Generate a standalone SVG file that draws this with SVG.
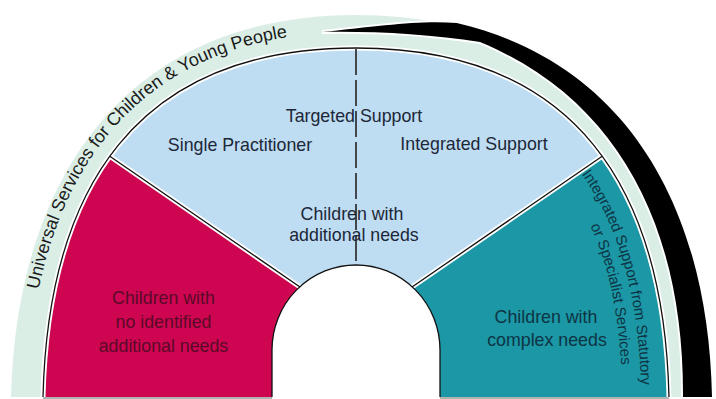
<svg xmlns="http://www.w3.org/2000/svg" width="716" height="399" viewBox="0 0 716 399">
<style>
text{font-family:"Liberation Sans",Arial,Helvetica,sans-serif;}
.lbl{font-size:17.8px;fill:#1c2738;text-anchor:middle}
.rt{fill:#5a0a28}
.tt{fill:#0e3444}
.edge{fill:none;stroke:#111;stroke-width:1.3;stroke-linejoin:round}
.halo{fill:none;stroke:#fff;stroke-width:5;stroke-linejoin:round}
.side{font-size:15px;fill:#0e3444;text-anchor:middle}
</style>
<defs>
<path id="bandPath" d="M27,397 C32,184 129,32 356,32"/>
<path id="tp1" d="M580,172 C621.5,228 639.4,302.5 641.5,397"/>
<path id="tp2" d="M564.6,183 C604.5,235.4 620.6,304.4 622.5,397"/>
</defs>
<rect width="716" height="399" fill="#fff"/>
<g id="band">
<path d="M11,397 C16,180 125,15 356,15 C587,15 696,180 701,397 Z" fill="#DAEEE6"/>
<text font-size="18" fill="#1a1a1a"><textPath href="#bandPath" startOffset="108">Universal Services for Children &amp; Young People</textPath></text>
</g>
<g id="shadow">
<path d="M322,32 C380,26 420,20 456.7,23 C630.1,63.5 708.6,212.55 712,397 L683,397 C684,230 620,100 480,42 C430,34 370,31 322,32 Z" fill="#000" stroke="#fff" stroke-width="4" paint-order="stroke"/>
</g>
<g id="dome">
<path d="M43,397 C48,190 135,48 356,48 C577,48 664,190 669,397 Z" fill="#fff"/>
</g>
<g id="region-red">
<path d="M43,397 C45.35,299.7 65.8,216.8 109.8,156.2 L300,287 A84 85 0 0 0 272,350 L272,397 Z" fill="#CE0550"/>
</g>
<g id="region-blue">
<path d="M109.8,156.2 C159.4,87.9 238.9,48 356,48 C473.1,48 552.6,87.9 602.2,156.2 L412,287 A84 85 0 0 0 300,287 Z" fill="#BFDDF2"/>
</g>
<g id="region-teal">
<path d="M602.2,156.2 C646.2,216.8 666.65,299.7 669,397 L440,397 L440,350 A84 85 0 0 0 412,287 Z" fill="#1B97A5"/>
</g>
<g id="arch">
<path d="M272,397 L272,350 A84 85 0 0 1 440,350 L440,397 Z" fill="#fff"/>
</g>
<g id="connectors">
<path class="halo" d="M43,397 C48,190 135,48 356,48 C577,48 664,190 669,397"/>
<path class="halo" d="M109.8,156.2 L300,287 M602.2,156.2 L412,287"/>
<path class="edge" d="M43,397 C48,190 135,48 356,48 C577,48 664,190 669,397"/>
<path class="edge" d="M109.8,156.2 L300,287 M602.2,156.2 L412,287"/>
<path class="edge" d="M272,397 L272,350 A84 85 0 0 1 440,350 L440,397"/>
<path d="M356,49 L356,266" fill="none" stroke="#222" stroke-width="1.6" stroke-dasharray="26 5"/>
<path d="M43,398 L272,398 M440,398 L669,398" fill="none" stroke="#666" stroke-width="1"/>
</g>
<g id="labels-blue">
<text class="lbl" x="354" y="122">Targeted Support</text>
<text class="lbl" x="240" y="151">Single Practitioner</text>
<text class="lbl" x="474" y="150">Integrated Support</text>
<text class="lbl" x="352" y="220">Children with</text>
<text class="lbl" x="354" y="241">additional needs</text>
</g>
<g id="labels-red">
<text class="lbl rt" x="163.5" y="304">Children with</text>
<text class="lbl rt" x="163.5" y="328">no identified</text>
<text class="lbl rt" x="163.5" y="352">additional needs</text>
</g>
<g id="labels-teal">
<text class="lbl tt" x="546" y="323">Children with</text>
<text class="lbl tt" x="547" y="346">complex needs</text>
<text class="side"><textPath href="#tp1" startOffset="48%">Integrated Support from Statutory</textPath></text>
<text class="side"><textPath href="#tp2" startOffset="54%">or Specialist Services</textPath></text>
</g>
</svg>
